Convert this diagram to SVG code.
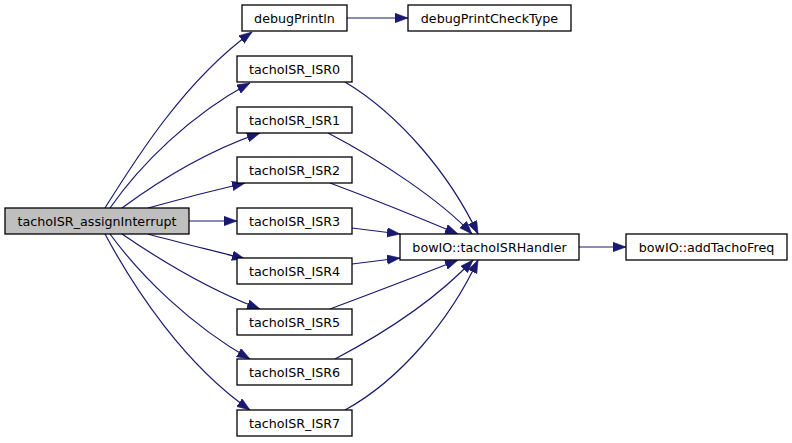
<svg xmlns="http://www.w3.org/2000/svg" width="792" height="443" viewBox="0 0 792 443">
<style>
.n rect{fill:#ffffff;stroke:#000000;stroke-width:1.3}
.n.main rect{fill:#bfbfbf}
.n text{font-family:"DejaVu Sans",sans-serif;font-size:12.7px;text-anchor:middle;fill:#000000}
.e path{fill:none;stroke:#191970;stroke-width:1.2;marker-end:url(#ah)}
</style>
<defs>
<marker id="ah" markerUnits="userSpaceOnUse" markerWidth="14" markerHeight="11" refX="13" refY="4.7" orient="auto">
<path d="M0,0 L13,4.7 L0,9.4 z" fill="#191970" stroke="#191970" stroke-width="0.6"/>
</marker>
</defs>
<rect width="792" height="443" fill="#ffffff"/>
<g id="connectors" class="e">
<path d="M105,208 C135,160 185,80 252,32"/>
<path d="M110,208 C140,165 190,115 250,83"/>
<path d="M122,208 C160,180 210,150 260,133"/>
<path d="M148,208 C180,199 215,190 245,183"/>
<path d="M189,221 L237,221"/>
<path d="M148,234 C180,243 215,251 245,259"/>
<path d="M122,234 C160,260 210,290 260,309"/>
<path d="M110,234 C140,275 190,325 250,359"/>
<path d="M105,234 C135,290 185,365 250,410"/>
<path d="M347,18 L408,18"/>
<path d="M345,82 C400,115 450,175 478,234"/>
<path d="M328,133 C380,160 440,200 472,234"/>
<path d="M330,183 C370,198 420,218 458,234"/>
<path d="M352,228 L400,234"/>
<path d="M352,264 L400,258"/>
<path d="M330,309 C370,294 420,275 458,260"/>
<path d="M335,359 C390,330 440,295 473,260"/>
<path d="M345,410 C400,380 450,320 478,260"/>
<path d="M579,247 L626,247"/>
</g>
<g id="node_main" class="n main"><rect x="5" y="208" width="184" height="26"/><text x="97" y="225.5">tachoISR_assignInterrupt</text></g>
<g id="node_debugPrintln" class="n"><rect x="242" y="5" width="105" height="26"/><text x="294.5" y="22.5">debugPrintln</text></g>
<g id="node_debugPrintCheckType" class="n"><rect x="408" y="5" width="163" height="26"/><text x="489.5" y="22.5">debugPrintCheckType</text></g>
<g id="node_isr0" class="n"><rect x="237" y="56" width="115" height="26"/><text x="294.5" y="73.5">tachoISR_ISR0</text></g>
<g id="node_isr1" class="n"><rect x="237" y="107" width="115" height="26"/><text x="294.5" y="124.5">tachoISR_ISR1</text></g>
<g id="node_isr2" class="n"><rect x="237" y="157" width="115" height="26"/><text x="294.5" y="174.5">tachoISR_ISR2</text></g>
<g id="node_isr3" class="n"><rect x="237" y="208" width="115" height="26"/><text x="294.5" y="225.5">tachoISR_ISR3</text></g>
<g id="node_isr4" class="n"><rect x="237" y="258" width="115" height="26"/><text x="294.5" y="275.5">tachoISR_ISR4</text></g>
<g id="node_isr5" class="n"><rect x="237" y="309" width="115" height="26"/><text x="294.5" y="326.5">tachoISR_ISR5</text></g>
<g id="node_isr6" class="n"><rect x="237" y="359" width="115" height="26"/><text x="294.5" y="376.5">tachoISR_ISR6</text></g>
<g id="node_isr7" class="n"><rect x="237" y="410" width="115" height="26"/><text x="294.5" y="427.5">tachoISR_ISR7</text></g>
<g id="node_handler" class="n"><rect x="400" y="234" width="179" height="26"/><text x="489.5" y="251.5">bowIO::tachoISRHandler</text></g>
<g id="node_addTachoFreq" class="n"><rect x="626" y="234" width="161" height="26"/><text x="706.5" y="251.5">bowIO::addTachoFreq</text></g>
</svg>
